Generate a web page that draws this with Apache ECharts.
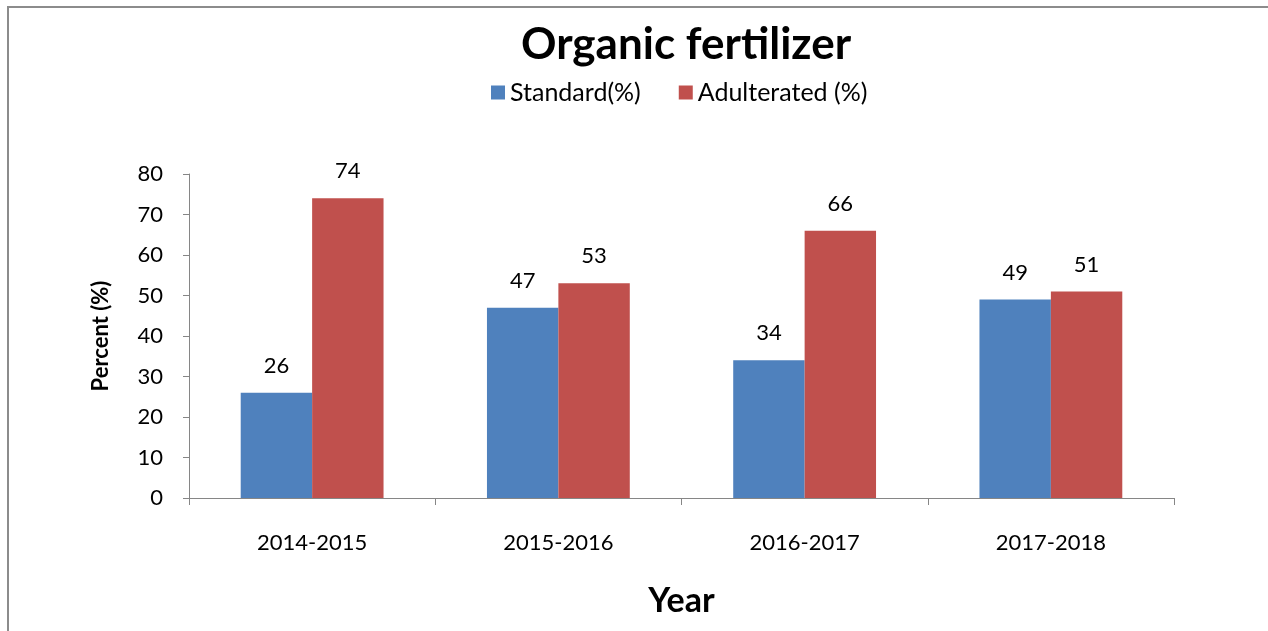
<!DOCTYPE html>
<html>
<head>
<meta charset="utf-8">
<script src="https://cdn.jsdelivr.net/npm/echarts@6/dist/echarts.min.js"></script>
<style>
  html, body { margin: 0; padding: 0; background: #fff; }
  #chart { width: 1268px; height: 631px; }
</style>
</head>
<body>
<div id="chart"></div>
<script>
// data
const years = ['2014-2015', '2015-2016', '2016-2017', '2017-2018'];
const standard = [26, 47, 34, 49];
const adulterated = [74, 53, 66, 51];

const font = 'Lato, "Open Sans", sans-serif';
const chart = echarts.init(document.getElementById('chart'));

const barLabel = {
  show: true,
  position: 'top',
  distance: 16,
  fontSize: 22,
  fontFamily: font,
  color: '#000'
};

chart.setOption({
  animation: false,
  // outer frame of the chart box
  graphic: [{
    type: 'rect',
    shape: { x: 8, y: 7, width: 1300, height: 700 },
    style: { fill: 'none', stroke: '#8c8c8c', lineWidth: 2 },
    silent: true
  }],
  title: {
    text: 'Organic fertilizer',
    left: 516,
    top: 18,
    textStyle: { fontSize: 44, fontWeight: 'bold', fontFamily: font, color: '#000' }
  },
  legend: {
    top: 75,
    left: 486,
    itemWidth: 14,
    itemHeight: 14,
    itemGap: 38,
    icon: 'rect',
    textStyle: { fontSize: 25, fontFamily: font, color: '#000' },
    data: ['Standard(%)', 'Adulterated (%)']
  },
  grid: { left: 189, right: 94, top: 174, bottom: 133, containLabel: false },
  xAxis: {
    type: 'category',
    data: years,
    name: 'Year',
    nameLocation: 'middle',
    nameGap: 86,
    nameTextStyle: { fontSize: 34, fontWeight: 'bold', fontFamily: font, color: '#000' },
    axisLine: { lineStyle: { color: '#868686', width: 1 } },
    axisTick: { show: true, length: 7, lineStyle: { color: '#868686' } },
    axisLabel: { fontSize: 22, fontFamily: font, color: '#000', margin: 34 }
  },
  yAxis: {
    type: 'value',
    min: 0,
    max: 80,
    interval: 10,
    name: 'Percent (%)',
    nameLocation: 'middle',
    nameGap: 77,
    nameTextStyle: { fontSize: 22, fontWeight: 'bold', fontFamily: font, color: '#000' },
    axisLine: { show: true, lineStyle: { color: '#868686', width: 1 } },
    axisTick: { show: true, length: 6, lineStyle: { color: '#868686' } },
    axisLabel: { fontSize: 22, fontFamily: font, color: '#000', margin: 26 },
    splitLine: { show: false }
  },
  series: [
    {
      name: 'Standard(%)',
      type: 'bar',
      data: standard,
      barGap: '0%',
      barCategoryGap: '42%',
      itemStyle: { color: '#4F81BD' },
      label: barLabel
    },
    {
      name: 'Adulterated (%)',
      type: 'bar',
      data: adulterated,
      itemStyle: { color: '#C0504D' },
      label: barLabel
    }
  ]
});
</script>
</body>
</html>
